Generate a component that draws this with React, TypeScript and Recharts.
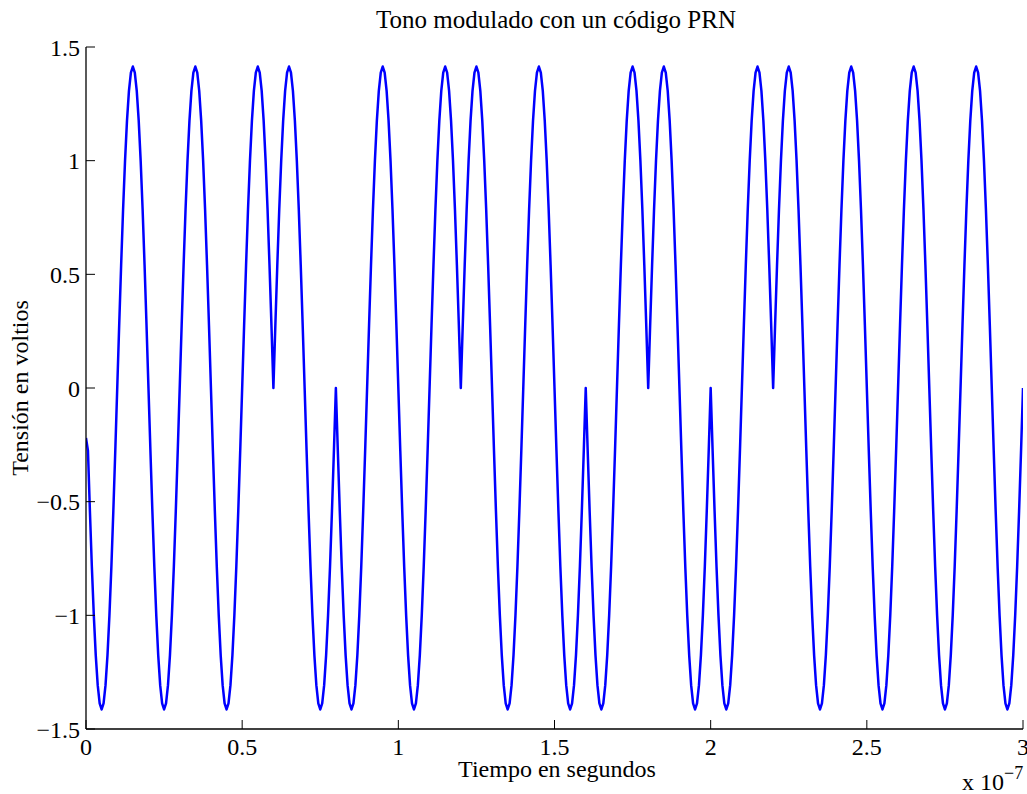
import React from 'react';
import { LineChart, Line, XAxis, YAxis, Customized } from 'recharts';

// Time axis in units of 1e-7 s
const xTicks = [0, 0.5, 1, 1.5, 2, 2.5, 3];
const xTickLabels = ['0', '0.5', '1', '1.5', '2', '2.5', '3'];
const yTicks = [-1.5, -1, -0.5, 0, 0.5, 1, 1.5];
const yTickLabels = ['\u22121.5', '\u22121', '\u22120.5', '0', '0.5', '1', '1.5'];

// PRN chips (read from the phase flips), each chip lasts 0.2e-7 s
const chipDuration = 0.2;
const prnChips = [1, 1, 1, -1, 1, 1, -1, -1, 1, -1, 1, -1, -1, -1, -1];
const chipWaveform = [
  0, -0.276, -0.541, -0.786, -1, -1.176, -1.307, -1.387,
  -1.414, -1.387, -1.307, -1.176, -1, -0.786, -0.541, -0.276,
  0, 0.276, 0.541, 0.786, 1, 1.176, 1.307, 1.387,
  1.414, 1.387, 1.307, 1.176, 1, 0.786, 0.541, 0.276,
];
const startValue = -0.22;
const endValue = 0;

const data: { t: number; v: number }[] = [];
prnChips.forEach((c, i) => {
  chipWaveform.forEach((w, k) => {
    data.push({ t: i * chipDuration + (k * chipDuration) / chipWaveform.length, v: c * w });
  });
});
data[0].v = startValue;
data.push({ t: prnChips.length * chipDuration, v: endValue });

const FONT = '"Liberation Serif", "Times New Roman", serif';
const TICK_LEN = 9;

const BottomTick = (p: any) => {
  const i = xTicks.indexOf(p.payload.value);
  return (
    <g>
      <line x1={p.x} x2={p.x} y1={p.y} y2={p.y - TICK_LEN} stroke="#000" strokeWidth={1} />
      <text x={p.x} y={p.y + 26} textAnchor="middle" fontFamily={FONT} fontSize={24} fill="#000">
        {xTickLabels[i]}
      </text>
    </g>
  );
};

const TopTick = (p: any) => (
  <line x1={p.x} x2={p.x} y1={p.y} y2={p.y + TICK_LEN} stroke="#000" strokeWidth={1} />
);

const LeftTick = (p: any) => {
  const i = yTicks.indexOf(p.payload.value);
  return (
    <g>
      <line x1={p.x} x2={p.x + TICK_LEN} y1={p.y} y2={p.y} stroke="#000" strokeWidth={1} />
      <text x={p.x - 6} y={p.y + 8.5} textAnchor="end" fontFamily={FONT} fontSize={24} fill="#000">
        {yTickLabels[i]}
      </text>
    </g>
  );
};

const RightTick = (p: any) => (
  <line x1={p.x} x2={p.x - TICK_LEN} y1={p.y} y2={p.y} stroke="#000" strokeWidth={1} />
);

const Texts = () => (
  <g fontFamily={FONT} fill="#000">
    <text x={556} y={28} textAnchor="middle" fontSize={25}>
      Tono modulado con un código PRN
    </text>
    <text x={557} y={777} textAnchor="middle" fontSize={24}>
      Tiempo en segundos
    </text>
    <text x={28} y={388} textAnchor="middle" fontSize={24} transform="rotate(-90 28 388)">
      Tensión en voltios
    </text>
    <text x={962} y={790} fontSize={24}>
      x 10<tspan dy={-11} fontSize={18}>{'\u22127'}</tspan>
    </text>
  </g>
);

const axisLine = { stroke: '#000', strokeWidth: 1.3 };

export default function App() {
  return (
    <div style={{ position: 'absolute', left: 0, top: 0, background: '#fff' }}>
      <LineChart width={1027} height={794} data={data} margin={{ top: 47, right: 4, bottom: 0, left: 0 }}>
        <XAxis
          xAxisId="b"
          dataKey="t"
          type="number"
          domain={[0, 3]}
          ticks={xTicks}
          interval={0}
          orientation="bottom"
          height={65}
          tickSize={0}
          tickMargin={0}
          tickLine={false}
          axisLine={axisLine}
          tick={BottomTick}
          allowDataOverflow
        />
        <XAxis
          xAxisId="t"
          dataKey="t"
          type="number"
          domain={[0, 3]}
          ticks={xTicks}
          interval={0}
          orientation="top"
          height={0}
          tickSize={0}
          tickMargin={0}
          tickLine={false}
          axisLine={axisLine}
          tick={TopTick}
          allowDataOverflow
        />
        <YAxis
          yAxisId="l"
          type="number"
          domain={[-1.5, 1.5]}
          ticks={yTicks}
          interval={0}
          orientation="left"
          width={86}
          tickSize={0}
          tickMargin={0}
          tickLine={false}
          axisLine={axisLine}
          tick={LeftTick}
          allowDataOverflow
        />
        <YAxis
          yAxisId="r"
          type="number"
          domain={[-1.5, 1.5]}
          ticks={yTicks}
          interval={0}
          orientation="right"
          width={0}
          tickSize={0}
          tickMargin={0}
          tickLine={false}
          axisLine={axisLine}
          tick={RightTick}
          allowDataOverflow
        />
        <Line
          xAxisId="b"
          yAxisId="l"
          dataKey="v"
          type="linear"
          stroke="#0000ff"
          strokeWidth={2.5}
          strokeLinejoin="round"
          dot={false}
          activeDot={false}
          isAnimationActive={false}
        />
        <Customized component={Texts} />
      </LineChart>
    </div>
  );
}
